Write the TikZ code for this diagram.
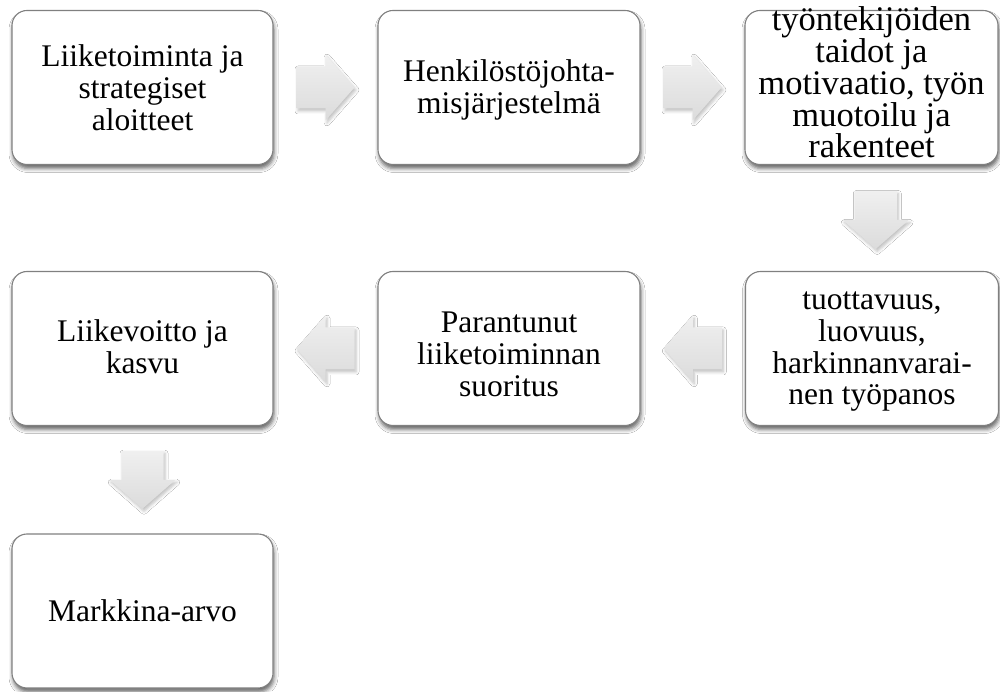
\documentclass[tikz,border=0pt]{standalone}
\usepackage{fontspec}
\setmainfont{Liberation Serif}
\usetikzlibrary{calc,shadows.blur}

% block arrows drawn around a named centre point
\newcommand\flowright[1]{%
  \path[blockarrow, shift={(#1)}]
    (-29,-21) -- (0,-21) -- (0,-33) -- (29,0) -- (0,33) -- (0,21) -- (-29,21) -- cycle;}
\newcommand\flowleft[1]{%
  \path[blockarrow, shift={(#1)}]
    (29,-21) -- (0,-21) -- (0,-33) -- (-29,0) -- (0,33) -- (0,21) -- (29,21) -- cycle;}
\newcommand\flowdown[1]{%
  \path[blockarrow, shift={(#1)}]
    (-21,29) -- (-21,0) -- (-33,0) -- (0,-29) -- (33,0) -- (21,0) -- (21,29) -- cycle;}

\begin{document}
\begin{tikzpicture}[x=1pt,y=1pt,
  box/.style={draw=black!50, line width=1.1pt, fill=white, rounded corners=15pt,
    minimum width=261pt, minimum height=154pt, inner sep=0pt,
    blur shadow={shadow xshift=1pt, shadow yshift=-4pt,
      shadow blur radius=4pt, shadow opacity=60}},
  narrowbox/.style={box, minimum width=253pt},
  boxtext/.style={align=center, inner sep=0pt,
    font=\fontsize{31.5}{31.75}\selectfont},
  bigtext/.style={boxtext, font=\fontsize{34.5}{31.75}\selectfont},
  blockarrow/.style={top color=black!6, bottom color=black!14, draw=none,
    blur shadow={shadow xshift=1.5pt, shadow yshift=-2.5pt,
      shadow blur radius=3pt, shadow opacity=25}}
]
\useasboundingbox (0,0) rectangle (1000,691);
\clip (0,0) rectangle (1000,691);
\fill[white] (0,0) rectangle (1000,691);

% boxes
\node[box]       (b1) at (142.5,603.5) {};
\node[box, minimum width=262pt] (b2) at (509,603.5) {};
\node[narrowbox] (b3) at (871.5,603.5) {};
\node[narrowbox] (b4) at (872,342.5) {};
\node[box, minimum width=262pt] (b5) at (509,342.5) {};
\node[box]       (b6) at (142.5,342.5) {};
\node[box]       (b7) at (142.5,80) {};

% box texts
\node[boxtext] (t1) at (b1) {Liiketoiminta ja\\strategiset\\aloitteet};
\node[boxtext, yshift=-2.7pt] (t2) at (b2) {Henkilöstöjohta-\\misjärjestelmä};
\node[bigtext, yshift=4.8pt] (t3) at (b3) {työntekijöiden\\taidot ja\\motivaatio, työn\\muotoilu ja\\rakenteet};
\node[boxtext, yshift=-3.4pt] (t4) at (b4) {tuottavuus,\\luovuus,\\harkinnanvarai-\\nen työpanos};
\node[boxtext, yshift=-6pt] (t5) at (b5) {Parantunut\\liiketoiminnan\\suoritus};
\node[boxtext, yshift=2pt] (t6) at (b6) {Liikevoitto ja\\kasvu};
\node[boxtext] (t7) at (b7) {Markkina-arvo};

% arrow centres between neighbouring boxes
\coordinate (a12) at ($(b1.east)!0.5!(b2.west)$);
\coordinate (a23) at ($(b2.east)!0.5!(b3.west)$);
\coordinate (a34) at ($(b3.south)!0.5!(b4.north)+(4,-2)$);
\coordinate (a45) at ($(b4.west)!0.5!(b5.east)$);
\coordinate (a56) at ($(b5.west)!0.5!(b6.east)$);
\coordinate (a67) at ($(b6.south)!0.5!(b7.north)$);

\flowright{a12}
\flowright{a23}
\flowdown{a34}
\flowleft{a45}
\flowleft{a56}
\flowdown{a67}
\end{tikzpicture}
\end{document}
